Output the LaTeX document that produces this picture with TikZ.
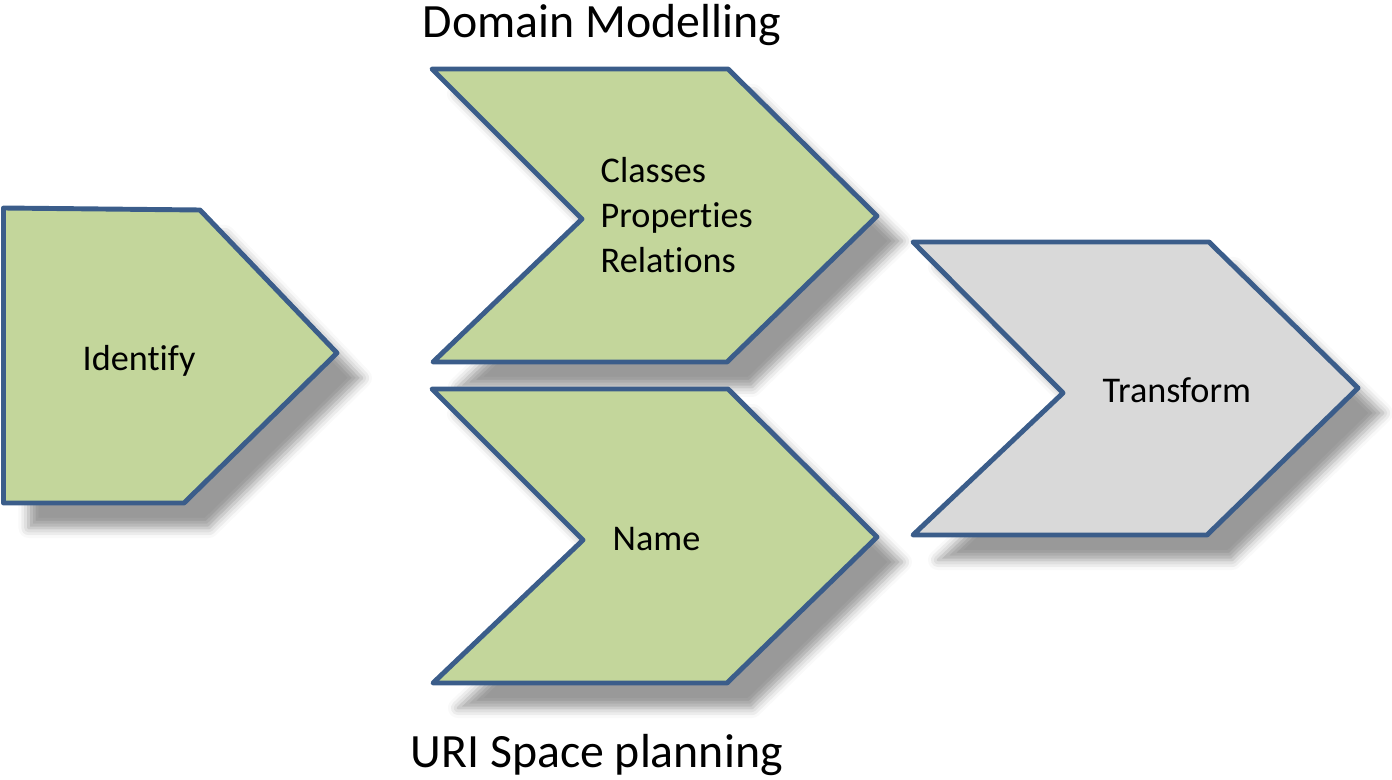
\documentclass[tikz,border=0pt]{standalone}
\usepackage{xcolor}
\usepackage{fontspec}
\setmainfont{Carlito}[Ligatures=NoCommon]
\usepackage{tikz}
\usetikzlibrary{shadows.blur}

\definecolor{chevgreen}{HTML}{C3D69B}
\definecolor{chevgray}{HTML}{D9D9D9}
\definecolor{chevline}{HTML}{3B5D8A}

\begin{document}
\begin{tikzpicture}[
        chev/.style={draw=chevline, line width=1.4pt, line join=round,
            blur shadow={shadow xshift=0.25cm, shadow yshift=-0.25cm,
                shadow blur radius=0.1cm, shadow opacity=40}},
        txt/.style={font=\fontsize{10.3}{12}\selectfont, inner sep=0pt, anchor=base west},
        title/.style={font=\fontsize{13.6}{16}\selectfont, inner sep=0pt, anchor=base west}
    ]
        \useasboundingbox (0, 0) rectangle (13.92, 7.79);

        \draw[chev, fill=chevgreen] (0.035, 5.71) -- (2.00, 5.69) -- (3.37, 4.26)
            -- (1.84, 2.76) -- (0.035, 2.76) -- cycle;
        \draw[chev, fill=chevgreen] (4.32, 7.10) -- (7.28, 7.10) -- (8.77, 5.63)
            -- (7.27, 4.17) -- (4.33, 4.17) -- (5.82, 5.60) -- cycle;
        \draw[chev, fill=chevgreen] (4.32, 3.90) -- (7.28, 3.90) -- (8.77, 2.42)
            -- (7.27, 0.96) -- (4.33, 0.96) -- (5.83, 2.39) -- cycle;
        \draw[chev, fill=chevgray] (9.13, 5.37) -- (12.09, 5.37) -- (13.58, 3.91)
            -- (12.07, 2.44) -- (9.13, 2.44) -- (10.63, 3.86) -- cycle;

        \node[txt] (identify) at (0.82, 4.09) {Identify};
        \node[txt] (classes) at (6.00, 5.96) {Classes};
        \node[txt] (properties) at ([yshift=-0.45cm]classes.base west) {Properties};
        \node[txt] (relations) at ([yshift=-0.45cm]properties.base west) {Relations};
        \node[txt] (name) at (6.12, 2.29) {Name};
        \node[txt] (transform) at (11.02, 3.77) {Transform};

        \node[title] (domain) at (4.22, 7.41) {Domain Modelling};
        \node[title] (urispace) at (4.10, 0.12) {URI Space planning};

    \end{tikzpicture}
\end{document}
